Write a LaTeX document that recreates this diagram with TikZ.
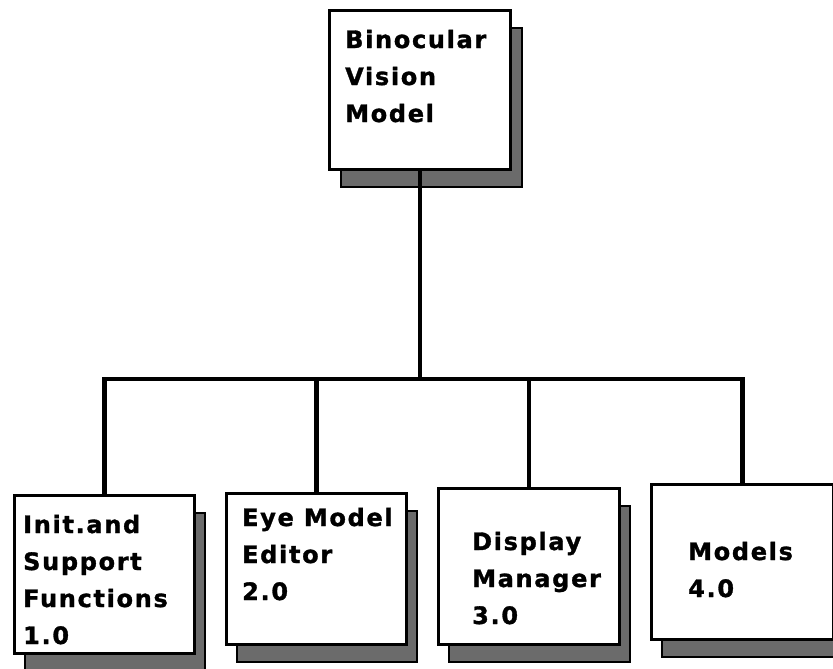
\documentclass[tikz,border=0pt]{standalone}
\usepackage{fontspec}
\newfontfamily\boxfont[LetterSpace=7, FakeBold=1.3]{DejaVu Sans Bold}
\begin{document}
\begin{tikzpicture}[x=1pt,y=-1pt,
  box/.style={draw=black, line width=3pt, fill=white, anchor=north west, inner sep=0pt, minimum width=181pt},
  shade/.style={draw=black, line width=1.5pt, fill=black!58},
  txt/.style={anchor=base west, align=left, inner sep=0pt, font=\boxfont\fontsize{24}{37}\selectfont},
  conn/.style={draw=black, line width=4.5pt, line join=miter}]
\useasboundingbox (0,0) rectangle (833,669);
% shadows
\fill[shade] (341,28) rectangle (522,187);
\fill[shade] (25,513) rectangle (205,671);
\fill[shade] (237,511) rectangle (417,662);
\fill[shade] (449,506) rectangle (630,662);
\fill[shade] (662,502) rectangle (844,657);
% boxes
\node[box, minimum height=159pt] (top) at (328,9) {};
\node[box, minimum width=180pt, minimum height=158pt] (b1) at (13,494) {};
\node[box, minimum width=180pt, minimum height=151pt] (b2) at (225,492) {};
\node[box, minimum height=156pt] (b3) at (437,487) {};
\node[box, minimum width=182pt, minimum height=155pt] (b4) at (650,483) {};
% texts (base anchor = baseline of last line)
\node[txt] (ttop) at (345,122) {Binocular\\Vision\\Model};
\node[txt] (t1) at (23,644) {Init.and\\Support\\Functions\\1.0};
\node[txt] (t2) at (242,600) {Eye Model\\Editor\\2.0};
\node[txt] (t3) at (472,624) {Display\\Manager\\3.0};
\node[txt] (t4) at (688,597) {Models\\4.0};
% connectors
\coordinate (bar) at (0,379);
\coordinate (j) at (top.south |- bar);
\draw[conn] (top.south) -- (j);
\draw[conn] (b1.north) |- (j) -| (b4.north);
\draw[conn] (b2.north |- bar) -- (b2.north);
\draw[conn] (b3.north |- bar) -- (b3.north);
\end{tikzpicture}
\end{document}
